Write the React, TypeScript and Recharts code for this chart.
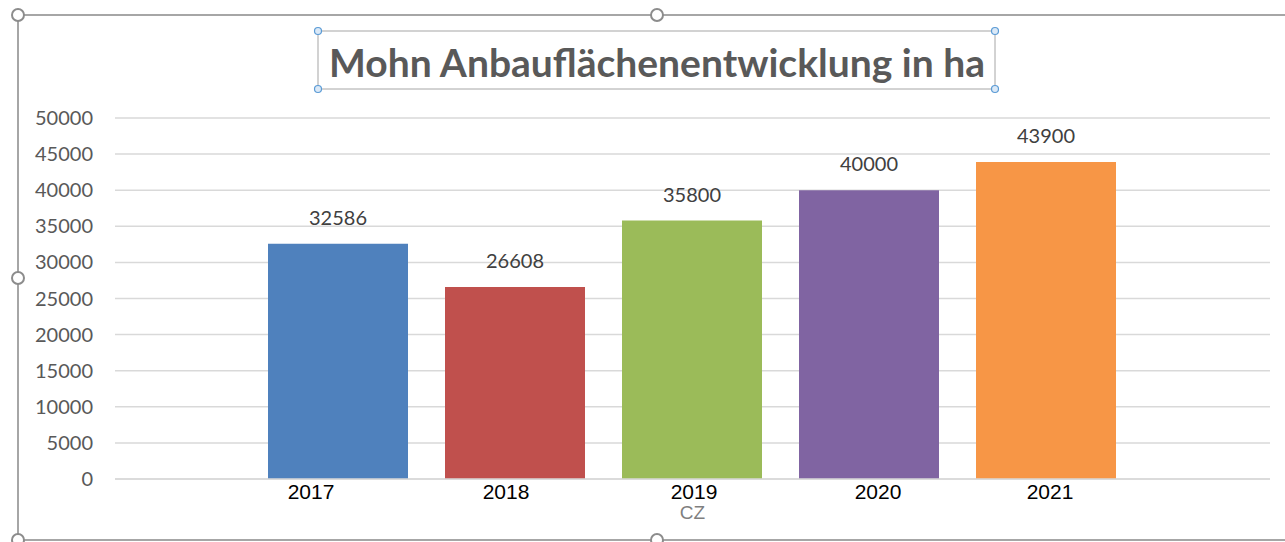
import React from 'react';
import { BarChart, Bar, XAxis, YAxis, CartesianGrid, LabelList } from 'recharts';

const title = 'Mohn Anbauflächenentwicklung in ha';
const categories = ['CZ'];
const years = ['2017', '2018', '2019', '2020', '2021'];
const values = [32586, 26608, 35800, 40000, 43900];
const colors = ['#4f81bd', '#c0504d', '#9bbb59', '#8064a2', '#f79646'];
const yTicks = [0, 5000, 10000, 15000, 20000, 25000, 30000, 35000, 40000, 45000, 50000];
// horizontal nudge of each year caption relative to its bar centre (as in the original)
const yearLabelDx = [-27, -9, 2, 9, 4];

const data = categories.map((c) => {
  const row: Record<string, string | number> = { category: c };
  years.forEach((y, i) => {
    row['y' + y] = values[i];
  });
  return row;
});

const W = 1285;
const H = 542;

const makeLabel = (year: string, dx: number) => (props: any) => {
  const { x, y, width, height, value } = props;
  const cx = Number(x) + Number(width) / 2;
  return (
    <g>
      <text x={cx} y={Number(y) - 19} textAnchor="middle" fill="#404040"
        style={{ fontFamily: 'Lato, sans-serif', fontSize: 20 }}>{value}</text>
      <text x={cx + dx} y={Number(y) + Number(height) + 20} textAnchor="middle" fill="#000000"
        style={{ fontFamily: '"Liberation Sans", Arial, sans-serif', fontSize: 21 }}>{year}</text>
    </g>
  );
};

const CatTick = (props: any) => {
  const { x, y, payload } = props;
  return (
    <text x={x} y={Number(y) + 32} textAnchor="middle" fill="#7f7f7f"
      style={{ fontFamily: '"Liberation Sans Narrow", "Liberation Sans", Arial, sans-serif', fontSize: 19 }}>
      {payload.value}
    </text>
  );
};

const YTick = (props: any) => {
  const { x, y, payload } = props;
  return (
    <text x={Number(x)} y={Number(y) + 7} textAnchor="end" fill="#595959"
      style={{ fontFamily: 'Lato, sans-serif', fontSize: 20 }}>
      {payload.value}
    </text>
  );
};

const Handle = ({ cx, cy }: { cx: number; cy: number }) => (
  <circle cx={cx} cy={cy} r={6} fill="#ffffff" stroke="#8c8c8c" strokeWidth={2} />
);
const BlueHandle = ({ cx, cy }: { cx: number; cy: number }) => (
  <circle cx={cx} cy={cy} r={3.5} fill="#dbe9f7" stroke="#5b9bd5" strokeWidth={1.2} />
);

export default function App() {
  return (
    <div style={{ position: 'absolute', left: 0, top: 0, width: W, height: H, background: '#ffffff', overflow: 'hidden' }}>
      <BarChart
        width={W}
        height={H}
        data={data}
        margin={{ top: 118, right: 15, bottom: 33, left: 0 }}
        barCategoryGap={153}
        barGap={37}
      >
        <CartesianGrid vertical={false} stroke="#d9d9d9" strokeWidth={1.5} />
        <XAxis dataKey="category" height={30} axisLine={{ stroke: '#d9d9d9', strokeWidth: 1.5 }} tickLine={false} tick={<CatTick />} />
        <YAxis
          width={115}
          domain={[0, 50000]}
          ticks={yTicks}
          interval={0}
          axisLine={false}
          tickLine={false}
          tickMargin={16}
          tick={<YTick />}
        />
        {years.map((y, i) => (
          <Bar key={y} dataKey={'y' + y} fill={colors[i]} isAnimationActive={false}>
            <LabelList dataKey={'y' + y} content={makeLabel(y, yearLabelDx[i])} />
          </Bar>
        ))}
      </BarChart>
      <svg width={W} height={H} style={{ position: 'absolute', left: 0, top: 0, pointerEvents: 'none' }}>
        <line x1={18} y1={15} x2={W} y2={15} stroke="#a6a6a6" strokeWidth={2} />
        <line x1={18} y1={15} x2={18} y2={540} stroke="#a6a6a6" strokeWidth={2} />
        <line x1={18} y1={540} x2={W} y2={540} stroke="#a6a6a6" strokeWidth={2} />
        <Handle cx={18} cy={15} />
        <Handle cx={657} cy={15} />
        <Handle cx={18} cy={278} />
        <Handle cx={18} cy={540} />
        <Handle cx={657} cy={540} />
        <rect x={318} y={31} width={677} height={58} fill="none" stroke="#a6a6a6" strokeWidth={1} />
        <text x={657} y={77} textAnchor="middle" fill="#595959"
          style={{ fontFamily: 'Lato, sans-serif', fontSize: 39, fontWeight: 700 }}>{title}</text>
        <BlueHandle cx={318} cy={31} />
        <BlueHandle cx={995} cy={31} />
        <BlueHandle cx={318} cy={89} />
        <BlueHandle cx={995} cy={89} />
      </svg>
    </div>
  );
}
